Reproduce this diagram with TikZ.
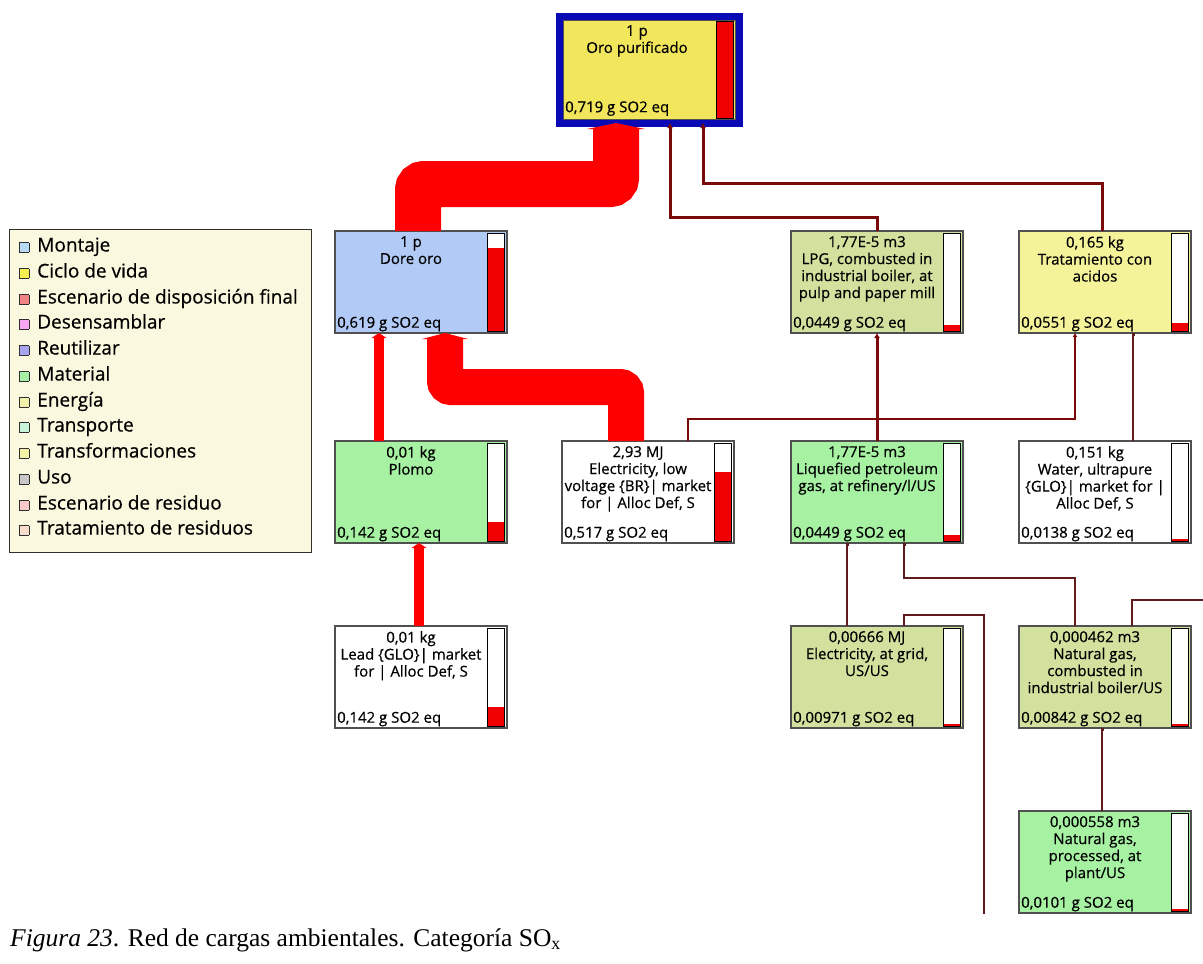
\documentclass[tikz,border=0pt]{standalone}
\usepackage{fontspec}
\setmainfont{Liberation Serif}
\newfontfamily\uifont{Open Sans}[FakeBold=0.5]
\usetikzlibrary{arrows.meta}

\definecolor{oroblue}{HTML}{0A0AB4}
\definecolor{oroyellow}{HTML}{F1E65C}
\definecolor{dorefill}{HTML}{B2CAF6}
\definecolor{olivefill}{HTML}{D3E19E}
\definecolor{tratfill}{HTML}{F4F39A}
\definecolor{greenfill}{HTML}{A6F2A2}
\definecolor{legendfill}{HTML}{FAF8DE}
\definecolor{boxgray}{HTML}{505050}
\definecolor{barred}{HTML}{F00000}
\definecolor{bandred}{HTML}{FF0000}
\definecolor{linkred}{HTML}{7A0A0A}
\definecolor{thinred}{HTML}{5E1C1C}
\definecolor{keyedge}{HTML}{303030}
\definecolor{cmontaje}{HTML}{B8DAF2}
\definecolor{cciclo}{HTML}{F6F150}
\definecolor{cdisp}{HTML}{F08484}
\definecolor{cdesens}{HTML}{F6A6F2}
\definecolor{creutil}{HTML}{A8A4F0}
\definecolor{cmaterial}{HTML}{A6F0A6}
\definecolor{cenergia}{HTML}{F0F0A8}
\definecolor{ctransp}{HTML}{C8F4DA}
\definecolor{ctransf}{HTML}{F6F2A6}
\definecolor{cuso}{HTML}{C8C8C8}
\definecolor{cresid}{HTML}{F8CACA}
\definecolor{ctratres}{HTML}{F8DCCC}

\newcommand\keybox[1]{{\setlength\fboxsep{0pt}\setlength\fboxrule{0.8pt}\fcolorbox{keyedge}{#1}{\rule{0pt}{8.5pt}\hspace{8.5pt}}}\hspace{8pt}}

\begin{document}
\begin{tikzpicture}[x=1pt,y=-1pt,
 box/.style={draw=boxgray,line width=1.5pt,minimum width=172pt,minimum height=102pt,anchor=north west,inner sep=0pt,outer sep=0pt},
 impact/.style={path picture={
   \draw[fill=white,draw=black,line width=1pt] ([xshift=-20pt,yshift=-2pt]path picture bounding box.north east) rectangle ([xshift=-3pt,yshift=2pt]path picture bounding box.south east);
   \fill[barred] ([xshift=-19.5pt,yshift=2.5pt]path picture bounding box.south east) rectangle ([xshift=-3.5pt,yshift=#1]path picture bounding box.south east);}},
 title/.style={anchor=north,align=center,inner sep=0pt,font=\uifont\fontsize{15}{17}\selectfont},
 amount/.style={anchor=south west,inner sep=0pt,font=\uifont\fontsize{15}{17}\selectfont},
 keyitem/.style={anchor=base west,inner sep=0pt,font=\uifont\fontsize{19}{22}\selectfont},
 bigflow/.style={draw=bandred,line width=#1,rounded corners=6pt},
 link/.style={draw=linkred,line width=#1},
 thinlink/.style={draw=thinred,line width=1.4pt}]
\useasboundingbox (0,0) rectangle (1203,964);

% legend
\node[draw=keyedge,line width=1.2pt,fill=legendfill,minimum width=302pt,minimum height=323pt,anchor=north west,inner sep=0pt] (legend) at (9,229) {};
\node[keyitem] (k1) at (19,251.5) {\keybox{cmontaje}Montaje};
\node[keyitem] (k2) at (19,277.5) {\keybox{cciclo}Ciclo de vida};
\node[keyitem] (k3) at (19,303.5) {\keybox{cdisp}Escenario de disposición final};
\node[keyitem] (k4) at (19,328.5) {\keybox{cdesens}Desensamblar};
\node[keyitem] (k5) at (19,354.5) {\keybox{creutil}Reutilizar};
\node[keyitem] (k6) at (19,380.5) {\keybox{cmaterial}Material};
\node[keyitem] (k7) at (19,406.5) {\keybox{cenergia}Energía};
\node[keyitem] (k8) at (19,431.5) {\keybox{ctransp}Transporte};
\node[keyitem] (k9) at (19,457.5) {\keybox{ctransf}Transformaciones};
\node[keyitem] (k10) at (19,483.5) {\keybox{cuso}Uso};
\node[keyitem] (k11) at (19,509.5) {\keybox{cresid}Escenario de residuo};
\node[keyitem] (k12) at (19,534.5) {\keybox{ctratres}Tratamiento de residuos};

% top process
\node[draw=oroblue,line width=7pt,fill=oroyellow,minimum width=180pt,minimum height=107pt,anchor=north west,inner sep=0pt,outer sep=0pt] (oro) at (559,16) {};
\draw[boxgray,line width=0.8pt] ([shift={(4pt,-4pt)}]oro.north west) rectangle ([shift={(-4pt,4pt)}]oro.south east);
\draw[fill=barred,draw=black,line width=1pt] ([xshift=-23pt,yshift=-5pt]oro.north east) rectangle ([xshift=-6pt,yshift=5pt]oro.south east);
\node[title] (oro-t) at ([xshift=-12pt,yshift=-9pt]oro.north) {1 p\\Oro purificado};
\node[amount] (oro-v) at ([xshift=6pt,yshift=7pt]oro.south west) {0,719 g SO2 eq};

% process boxes
\node[box,fill=dorefill,impact=85pt] (dore) at (335,231) {};
\node[box,fill=olivefill,impact=8.5pt] (lpg) at (791,231) {};
\node[box,fill=tratfill,impact=10pt] (trat) at (1019,231) {};
\node[box,fill=greenfill,impact=21.5pt] (plomo) at (335,441) {};
\node[box,fill=white,impact=71.5pt] (elecbr) at (562,441) {};
\node[box,fill=greenfill,impact=8.5pt] (lpgref) at (791,441) {};
\node[box,fill=white,impact=4.3pt] (water) at (1019,441) {};
\node[box,fill=white,impact=21.5pt] (lead) at (335,626) {};
\node[box,fill=olivefill,impact=3.8pt] (elecus) at (791,626) {};
\node[box,fill=olivefill,impact=3.6pt] (ngboil) at (1019,626) {};
\node[box,fill=greenfill,impact=3.9pt] (ngproc) at (1019,811) {};

\node[title] (dore-t) at ([xshift=-10pt,yshift=-5pt]dore.north) {1 p\\Dore oro};
\node[title] (lpg-t) at ([xshift=-10pt,yshift=-5pt]lpg.north) {1,77E-5 m3\\LPG, combusted in\\industrial boiler, at\\pulp and paper mill};
\node[title] (trat-t) at ([xshift=-10pt,yshift=-5pt]trat.north) {0,165 kg\\Tratamiento con\\acidos};
\node[title] (plomo-t) at ([xshift=-10pt,yshift=-5pt]plomo.north) {0,01 kg\\Plomo};
\node[title] (elecbr-t) at ([xshift=-10pt,yshift=-5pt]elecbr.north) {2,93 MJ\\Electricity, low\\voltage \{BR\}| market\\for | Alloc Def, S};
\node[title] (lpgref-t) at ([xshift=-10pt,yshift=-5pt]lpgref.north) {1,77E-5 m3\\Liquefied petroleum\\gas, at refinery/l/US};
\node[title] (water-t) at ([xshift=-10pt,yshift=-5pt]water.north) {0,151 kg\\Water, ultrapure\\\{GLO\}| market for |\\Alloc Def, S};
\node[title] (lead-t) at ([xshift=-10pt,yshift=-5pt]lead.north) {0,01 kg\\Lead \{GLO\}| market\\for | Alloc Def, S};
\node[title] (elecus-t) at ([xshift=-10pt,yshift=-5pt]elecus.north) {0,00666 MJ\\Electricity, at grid,\\US/US};
\node[title] (ngboil-t) at ([xshift=-10pt,yshift=-5pt]ngboil.north) {0,000462 m3\\Natural gas,\\combusted in\\industrial boiler/US};
\node[title] (ngproc-t) at ([xshift=-10pt,yshift=-5pt]ngproc.north) {0,000558 m3\\Natural gas,\\processed, at\\plant/US};

\node[amount] (dore-v) at ([xshift=2pt,yshift=1.5pt]dore.south west) {0,619 g SO2 eq};
\node[amount] (lpg-v) at ([xshift=2pt,yshift=1.5pt]lpg.south west) {0,0449 g SO2 eq};
\node[amount] (trat-v) at ([xshift=2pt,yshift=1.5pt]trat.south west) {0,0551 g SO2 eq};
\node[amount] (plomo-v) at ([xshift=2pt,yshift=1.5pt]plomo.south west) {0,142 g SO2 eq};
\node[amount] (elecbr-v) at ([xshift=2pt,yshift=1.5pt]elecbr.south west) {0,517 g SO2 eq};
\node[amount] (lpgref-v) at ([xshift=2pt,yshift=1.5pt]lpgref.south west) {0,0449 g SO2 eq};
\node[amount] (water-v) at ([xshift=2pt,yshift=1.5pt]water.south west) {0,0138 g SO2 eq};
\node[amount] (lead-v) at ([xshift=2pt,yshift=1.5pt]lead.south west) {0,142 g SO2 eq};
\node[amount] (elecus-v) at ([xshift=2pt,yshift=1.5pt]elecus.south west) {0,00971 g SO2 eq};
\node[amount] (ngboil-v) at ([xshift=2pt,yshift=1.5pt]ngboil.south west) {0,00842 g SO2 eq};
\node[amount] (ngproc-v) at ([xshift=2pt,yshift=1.5pt]ngproc.south west) {0,0101 g SO2 eq};

% free ends, outside the window
\coordinate (offA) at (984,914);
\coordinate (offB) at (1203,600);

% flows
\draw[bigflow=46pt,-{Triangle[length=6pt,width=58pt]}] ([xshift=-3pt]dore.north) -- ++(0,-47) -| ([xshift=-33pt]oro.south);
\draw[bigflow=36pt,-{Triangle[length=6pt,width=46pt]}] ([xshift=-22pt]elecbr.north) -- ++(0,-54) -| ([xshift=24pt]dore.south);
\draw[bigflow=10pt,-{Triangle[length=5pt,width=15pt]}] ([xshift=-42pt]plomo.north) -- ([xshift=-42pt]dore.south);
\draw[bigflow=10pt,-{Triangle[length=5pt,width=15pt]}] ([xshift=-2pt]lead.north) -- ([xshift=-2pt]plomo.south);
\draw[link=3pt,-{Latex[length=5pt,width=6pt]}] (lpg.north) -- ++(0,-14) -| ([xshift=21pt]oro.south);
\draw[link=3pt,-{Latex[length=5pt,width=6pt]}] ([xshift=-3pt]trat.north) -- ++(0,-48) -| ([xshift=54pt]oro.south);
\draw[link=3pt,-{Latex[length=5pt,width=6pt]}] (lpgref.north) -- (lpg.south);
\draw[link=2pt,-{Latex[length=4pt,width=5pt]}] ([xshift=40pt]elecbr.north) -- ++(0,-22) -| ([xshift=-30pt]trat.south);
\draw[thinlink,-{Square[length=3pt,width=3pt]}] ([xshift=28pt]water.north) -- ([xshift=28pt]trat.south);
\draw[thinlink,-{Square[length=3pt,width=3pt]}] ([xshift=-30pt]elecus.north) -- ([xshift=-30pt]lpgref.south);
\draw[thinlink,-{Square[length=3pt,width=3pt]}] ([xshift=-30pt]ngboil.north) -- ++(0,-48) -| ([xshift=27pt]lpgref.south);
\draw[thinlink,-{Square[length=3pt,width=3pt]}] ([xshift=-3pt]ngproc.north) -- ([xshift=-3pt]ngboil.south);
\draw[thinlink] (offA) |- ([xshift=27pt,yshift=11pt]elecus.north) -- ([xshift=27pt]elecus.north);
\draw[thinlink] (offB) -| ([xshift=27pt]ngboil.north);

% caption
\node[anchor=west,inner sep=0pt,font=\fontsize{25.5}{29}\selectfont] (caption) at (10,940) {\textit{Figura 23}. Red de cargas ambientales. Categoría SO\textsubscript{x}};
\end{tikzpicture}
\end{document}
